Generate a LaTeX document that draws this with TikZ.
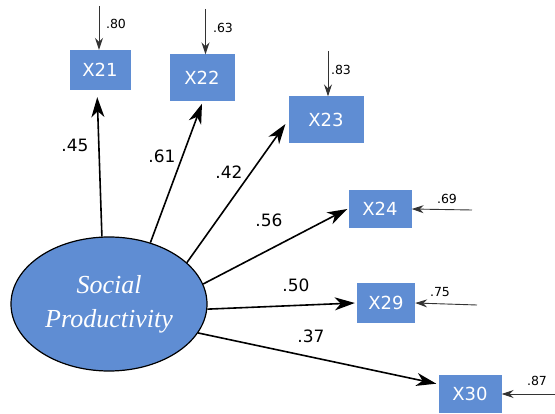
\documentclass[tikz,border=0pt]{standalone}
\usepackage{fontspec}
\setmainfont{DejaVu Sans}
\newfontfamily\ellfont{Liberation Serif}
\usetikzlibrary{arrows.meta,shapes.geometric}
\definecolor{boxblue}{RGB}{95,141,211}
\begin{document}
\begin{tikzpicture}[x=1pt,y=-1pt,
  obs/.style={fill=boxblue, text=white, font=\fontsize{18}{20}\selectfont, inner sep=0pt, anchor=center},
  load/.style={-{Stealth[length=20pt,width=13pt,inset=6pt]}, line width=1.6pt},
  err/.style={-{Stealth[length=12pt,width=8pt,inset=4pt]}, line width=0.9pt, draw=black!80},
  lab/.style={font=\fontsize{17}{19}\selectfont, inner sep=0pt},
  elab/.style={font=\fontsize{12.5}{14}\selectfont, inner sep=0pt}]
\useasboundingbox (0,0) rectangle (555,414);
% observed variables
\node[obs, minimum width=61pt, minimum height=40pt] (x21) at (100,70) {X21};
\node[obs, minimum width=65pt, minimum height=47pt] (x22) at (202,78) {X22};
\node[obs, minimum width=75pt, minimum height=47pt] (x23) at (326,120) {X23};
\node[obs, minimum width=63pt, minimum height=38pt] (x24) at (380,209) {X24};
\node[obs, minimum width=58pt, minimum height=40pt] (x29) at (386,303) {X29};
\node[obs, minimum width=63pt, minimum height=38pt] (x30) at (470,394) {X30};
% latent variable
\node[ellipse, draw, line width=1.2pt, fill=boxblue, minimum width=196pt, minimum height=134pt, inner sep=0pt, text=white, align=center,
  font=\ellfont\itshape\fontsize{26}{34}\selectfont] (sp) at (109,304) {Social\\Productivity};
% loadings
\draw[load, shorten >=7pt] (sp.96) -- ([xshift=-3pt]x21.south);
\draw[load] (sp.56) -- ([yshift=-2pt]x22.south);
\draw[load, shorten >=5pt] (sp.28) -- (x23.west);
\draw[load] (sp.12) -- ([xshift=-1pt]x24.west);
\draw[load] (sp.-3.5) -- ([xshift=-2pt]x29.west);
\draw[load] (sp.-18) -- ([xshift=-2pt]x30.162);
\node[lab] (l45) at (75,145) {.45};
\node[lab] (l61) at (162,156) {.61};
\node[lab] (l42) at (229,172) {.42};
\node[lab] (l56) at (269,220) {.56};
\node[lab] (l50) at (296,285) {.50};
\node[lab] (l37) at (311,336) {.37};
% error terms
\coordinate (e21) at (99,6);
\coordinate (e22) at (205.5,9);
\coordinate (e23) at (328,51);
\coordinate (e24) at (472,210);
\coordinate (e29) at (477,305);
\coordinate (e30) at (555,394);
\draw[err] (e21) -- (e21 |- x21.north);
\draw[err] (e22) -- (e22 |- x22.north);
\draw[err] (e23) -- (e23 |- x23.north);
\draw[err] (e24) -- (x24.east);
\draw[err] (e29) -- (x29.east);
\draw[err] (e30) -- (x30.east);
\node[elab] (r80) at (116,24) {.80};
\node[elab] (r63) at (223,28) {.63};
\node[elab] (r83) at (341,70) {.83};
\node[elab] (r69) at (447,199) {.69};
\node[elab] (r75) at (440,292) {.75};
\node[elab] (r87) at (537,381) {.87};
\end{tikzpicture}
\end{document}
